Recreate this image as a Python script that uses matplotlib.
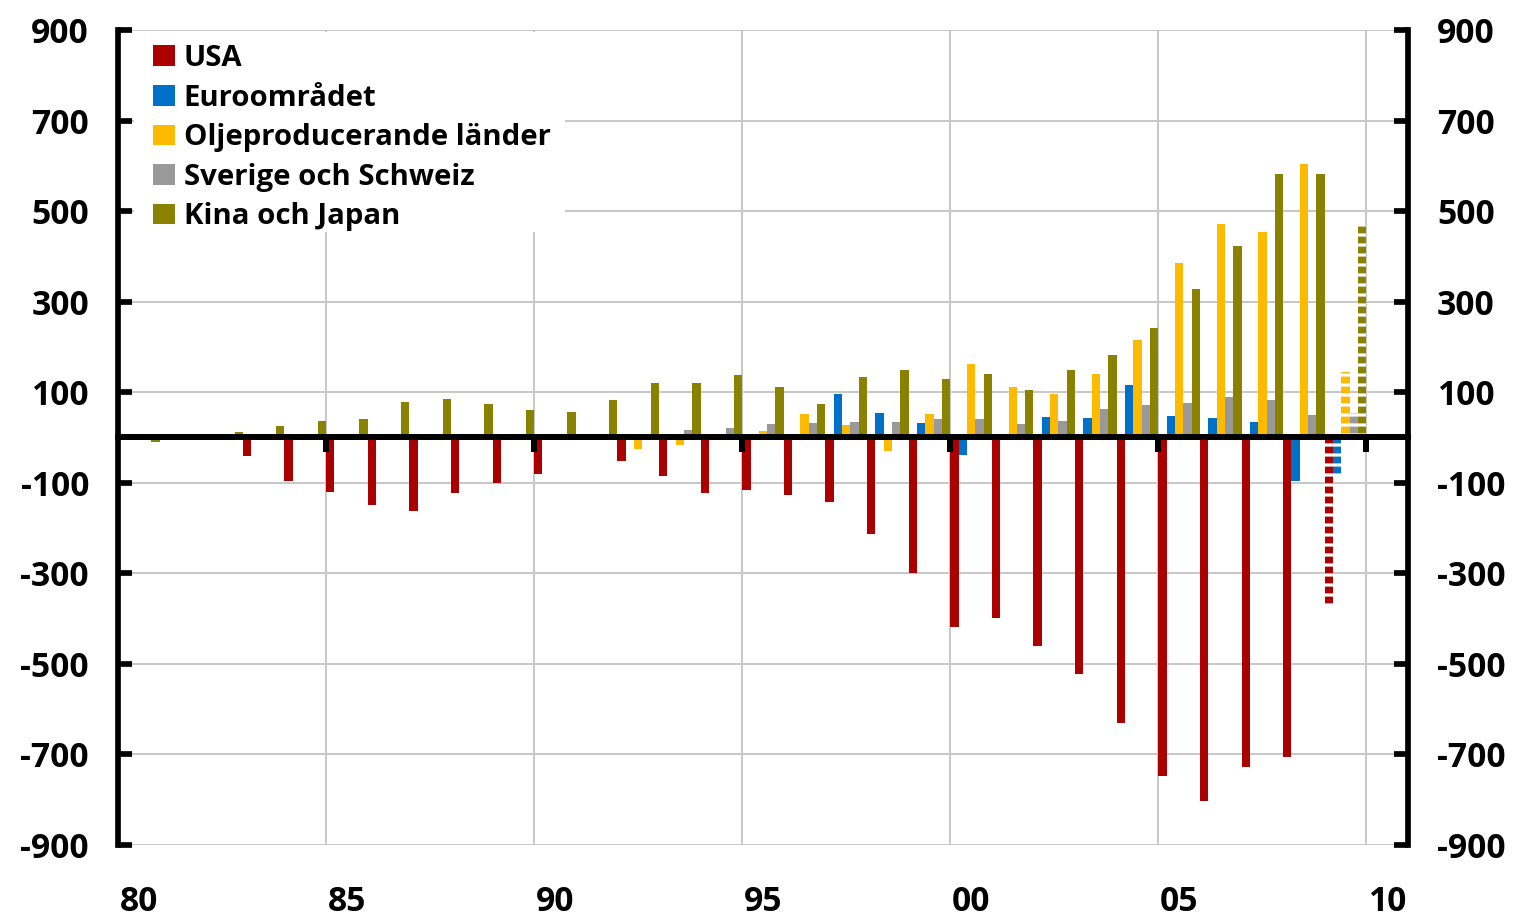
import matplotlib
matplotlib.use("Agg")
import matplotlib.pyplot as plt
import matplotlib.ticker as mticker
from matplotlib.patches import Rectangle
import numpy as np

# ---------------- data ----------------
years = list(range(1980, 2010))
forecast_years = [2009]
series_names = ["USA", "Euroområdet", "Oljeproducerande länder",
                "Sverige och Schweiz", "Kina och Japan"]
usa = [2, 5, -5, -40, -95, -120, -148, -162, -123, -101,
       -80, -3, -51, -85, -123, -115, -126, -142, -214, -300,
       -419, -399, -461, -523, -631, -748, -803, -728, -706, -369]
euro = [0, 0, 0, 0, 0, 0, 0, 0, 0, 0,
        0, 0, 0, 0, 0, 0, 0, 95, 55, 31,
        -38, 2, 46, 44, 117, 48, 42, 35, -95, -84]
olje = [0, 0, 0, 0, 0, 0, 0, 0, 0, 0,
        0, 0, -25, -17, 1, 15, 51, 28, -30, 51,
        163, 111, 95, 141, 216, 385, 472, 453, 605, 144]
sverige = [0, 0, 0, 0, 0, 0, 2, 2, 3, 0,
           0, 2, 3, 17, 20, 30, 33, 35, 35, 40,
           40, 30, 37, 64, 71, 77, 90, 82, 49, 55]
kina = [-10, 5, 13, 25, 37, 40, 79, 86, 75, 60,
        57, 82, 120, 121, 139, 112, 75, 134, 150, 130,
        141, 106, 148, 183, 241, 327, 424, 583, 583, 468]
series = [usa, euro, olje, sverige, kina]
colors = ["#AA0000", "#0070C8", "#FCBB00", "#999999", "#8B8100"]

yticks = list(range(-900, 901, 200))
xlabel_years = list(range(1980, 2011, 5))
xlabel_text = ["80", "85", "90", "95", "00", "05", "10"]
grid_years = list(range(1985, 2011, 5))

# ---------------- style ----------------
DPI = 120
W, H = 1516, 916
px = 72.0 / DPI  # points per pixel
plt.rcParams["font.family"] = ["Open Sans", "DejaVu Sans"]
plt.rcParams["font.weight"] = "bold"
plt.rcParams["hatch.linewidth"] = 3.2 * px

fig = plt.figure(figsize=(W / DPI, H / DPI), dpi=DPI)
ax = fig.add_axes([118 / W, 1 - 845 / H, 1290 / W, 815 / H])

n = len(series)
yrs = np.array(years, dtype=float)
is_fc = np.isin(years, forecast_years)
handles = []
for i, (vals, col, name) in enumerate(zip(series, colors, series_names)):
    vals = np.array(vals, dtype=float)
    xpos = yrs + (i + 0.5) / n
    b = ax.bar(xpos[~is_fc], vals[~is_fc], width=1.0 / n, color=col,
               linewidth=0, zorder=2, label=name)
    ax.bar(xpos[is_fc], vals[is_fc], width=1.0 / n, facecolor=col,
           edgecolor="white", hatch="--", linewidth=0, zorder=2)
    handles.append(b)

ax.set_xlim(1980, 2011)
ax.set_ylim(-900, 900)

# gridlines
ax.set_axisbelow(True)
ax.xaxis.set_major_locator(mticker.FixedLocator(grid_years))
ax.xaxis.set_major_formatter(mticker.NullFormatter())
ax.xaxis.set_minor_locator(mticker.FixedLocator([y + 0.5 for y in xlabel_years]))
ax.xaxis.set_minor_formatter(mticker.FixedFormatter(xlabel_text))
ax.tick_params(axis="x", which="both", length=0, labelsize=20.2,
               pad=40 * px)
ax.set_yticks(yticks)
ax.set_yticklabels([str(v) for v in yticks])
ax.tick_params(axis="y", direction="in", length=14 * px, width=5.7 * px,
               left=True, right=True, labelleft=True, labelright=True,
               labelsize=20.2, pad=29 * px)
ax.grid(True, which="major", color="#c8c8c8", linewidth=2 * px)

for s in ["top", "bottom"]:
    ax.spines[s].set_visible(False)
for s in ["left", "right"]:
    ax.spines[s].set_linewidth(5.7 * px)
    ax.spines[s].set_color("black")

# zero line with tick stubs
sec = ax.secondary_xaxis(0.5)
sec.set_zorder(5)
sec.set_xticks(grid_years)
sec.tick_params(axis="x", direction="in", length=15 * px, width=6 * px,
                labeltop=False, labelbottom=False, color="black")
for s in ["top", "bottom"]:
    sec.spines[s].set_linewidth(6 * px)
    sec.spines[s].set_color("black")

# legend background (covers gridlines)
ax.add_patch(Rectangle((16 / 1290, (845 - 232) / 815), (565 - 134) / 1290,
                       (232 - 32) / 815, transform=ax.transAxes,
                       facecolor="white", edgecolor="none", zorder=0.8))
leg = ax.legend(handles=handles, loc="upper left",
                bbox_to_anchor=((153 - 118) / 1290, (845 - 44) / 815),
                frameon=False, borderpad=0, borderaxespad=0,
                handlelength=0.74, handleheight=0.7, handletextpad=0.3,
                labelspacing=0.36, prop=dict(family=["Open Sans", "DejaVu Sans"],
                                             weight="bold", size=17.6))
leg.set_zorder(6)

fig.savefig("out.png", dpi=DPI)
